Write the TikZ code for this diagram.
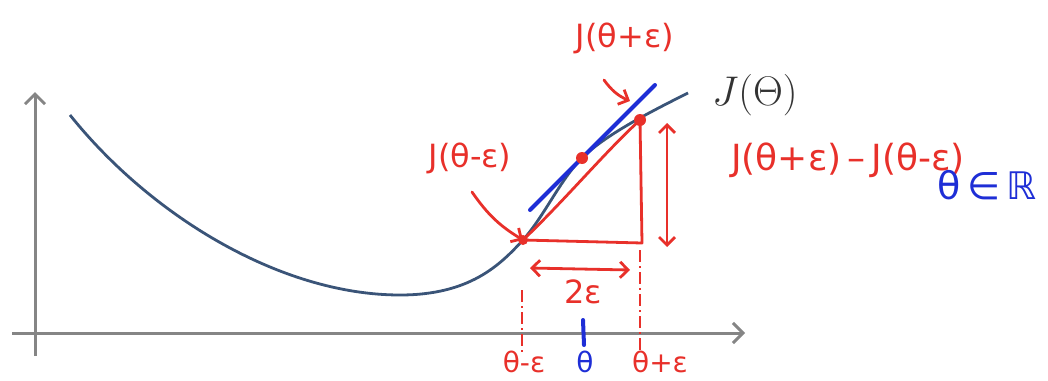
\documentclass[tikz,border=0pt]{standalone}
\usepackage{fontspec}
\usepackage{amsmath}
\usepackage{tikz}
\usetikzlibrary{arrows.meta,positioning,calc}
\usepackage{xcolor}
\newfontfamily\handfont{DejaVu Sans}
\definecolor{penred}{HTML}{E8302A}
\definecolor{penblue}{HTML}{1E2ED6}
\definecolor{curveblue}{HTML}{3A5478}
\definecolor{axisgray}{HTML}{858585}
\tikzset{
  axisline/.style={draw=axisgray, line width=1.5pt, -{Straight Barb[length=5pt,width=10pt]}},
  curveline/.style={draw=curveblue, line width=1.4pt},
  redpen/.style={draw=penred, line width=1.4pt, line cap=round, line join=round},
  redarrow/.style={redpen, -{Straight Barb[length=4pt,width=8pt]}},
  reddouble/.style={redpen, {Straight Barb[length=4pt,width=8pt]}-{Straight Barb[length=4pt,width=8pt]}},
  redguide/.style={draw=penred, line width=1pt, dash pattern=on 6pt off 2pt on 1pt off 2pt},
  bluepen/.style={draw=penblue, line width=2pt, line cap=round},
  redlabel/.style={text=penred, font=\handfont\fontsize{16}{19}\selectfont, inner sep=1pt},
  ticklabel/.style={text=penred, font=\handfont\fontsize{14}{16}\selectfont, inner sep=1pt},
}

\begin{document}
\begin{tikzpicture}[x=0.5pt, y=-0.5pt]
    \useasboundingbox (0,0) rectangle (1048,380);

    % Axes
    \coordinate (origin) at (35,333);
    \coordinate (yend) at (35,92);
    \coordinate (ybot) at (35,356);
    \coordinate (xstart) at (12,333);
    \coordinate (xend) at (745,333);
    \draw[axisline] (ybot) -- (yend);
    \draw[axisline] (xstart) -- (xend);

    % Cost curve J(Theta)
    \coordinate (start) at (70,115);
    \coordinate (bottom) at (400,295);
    \coordinate (lo) at (523,240);
    \coordinate (mid) at (582,158);
    \coordinate (hi) at (640,120);
    \coordinate (finish) at (688,93);
    \coordinate (corner) at (642,243);
    \draw[curveline] (start) .. controls (150,215) and (280,295) .. (bottom)
        .. controls (470,295) and (500,265) .. (lo)
        .. controls (545,215) and (560,180) .. (mid)
        .. controls (605,135) and (650,112) .. (finish);
    \node[font=\fontsize{20}{24}\selectfont, text=black!80, anchor=west] (jtheta) at (705,95) {$J(\Theta)$};

    % Tangent line at theta
    \coordinate (tanlo) at (530,210);
    \coordinate (tanhi) at (655,85);
    \draw[bluepen] (tanlo) -- (tanhi);

    % Secant triangle
    \draw[redpen] (lo) -- (corner) -- (hi);
    \draw[redpen] (lo) .. controls (565,200) and (605,152) .. (hi);
    \fill[penred] (lo) circle (2.5pt);
    \fill[penred] (mid) circle (3pt);
    \fill[penred] (hi) circle (3pt);

    % Double arrows
    \coordinate (dytop) at (667,123);
    \coordinate (dybot) at (667,247);
    \draw[reddouble] (dytop) -- (dybot);
    \coordinate (dxl) at (530,268);
    \coordinate (dxr) at (630,270);
    \draw[reddouble] (dxl) -- (dxr);
    \node[redlabel] (twoeps) at (583,292) {2ε};

    % Guide lines down to the axis
    \coordinate (gminus) at (522,290);
    \coordinate (gminusb) at (522,352);
    \coordinate (gplus) at (640,250);
    \coordinate (gplusb) at (640,352);
    \draw[redguide] (gminus) -- (gminusb);
    \draw[redguide] (gplus) -- (gplusb);
    \coordinate (ticktop) at (583,320);
    \coordinate (tickbot) at (584,345);
    \draw[bluepen] (ticktop) -- (tickbot);

    % Axis labels
    \node[ticklabel] (tminus) at (524,362) {θ-ε};
    \node[ticklabel, text=penblue] (tzero) at (585,362) {θ};
    \node[ticklabel] (tplus) at (660,362) {θ+ε};

    % Point labels
    \node[redlabel] (jplus) at (625,38) {J(θ+ε)};
    \coordinate (jplusfrom) at (604,80);
    \coordinate (jplusto) at (630,101);
    \draw[redarrow] (jplusfrom) to[bend right=15] (jplusto);
    \node[redlabel] (jminus) at (470,158) {J(θ-ε)};
    \coordinate (jminusfrom) at (472,192);
    \draw[redarrow] (jminusfrom) to[bend right=12] (lo);

    % Difference and domain
    \node[redlabel, font=\handfont\fontsize{18}{21}\selectfont] (jdiff) at (848,160) {J(θ+ε)\,–\,J(θ-ε)};
    \node[text=penblue, font=\handfont\fontsize{19}{22}\selectfont] (domain) at (987,185) {θ\,∈\,ℝ};
\end{tikzpicture}
\end{document}
